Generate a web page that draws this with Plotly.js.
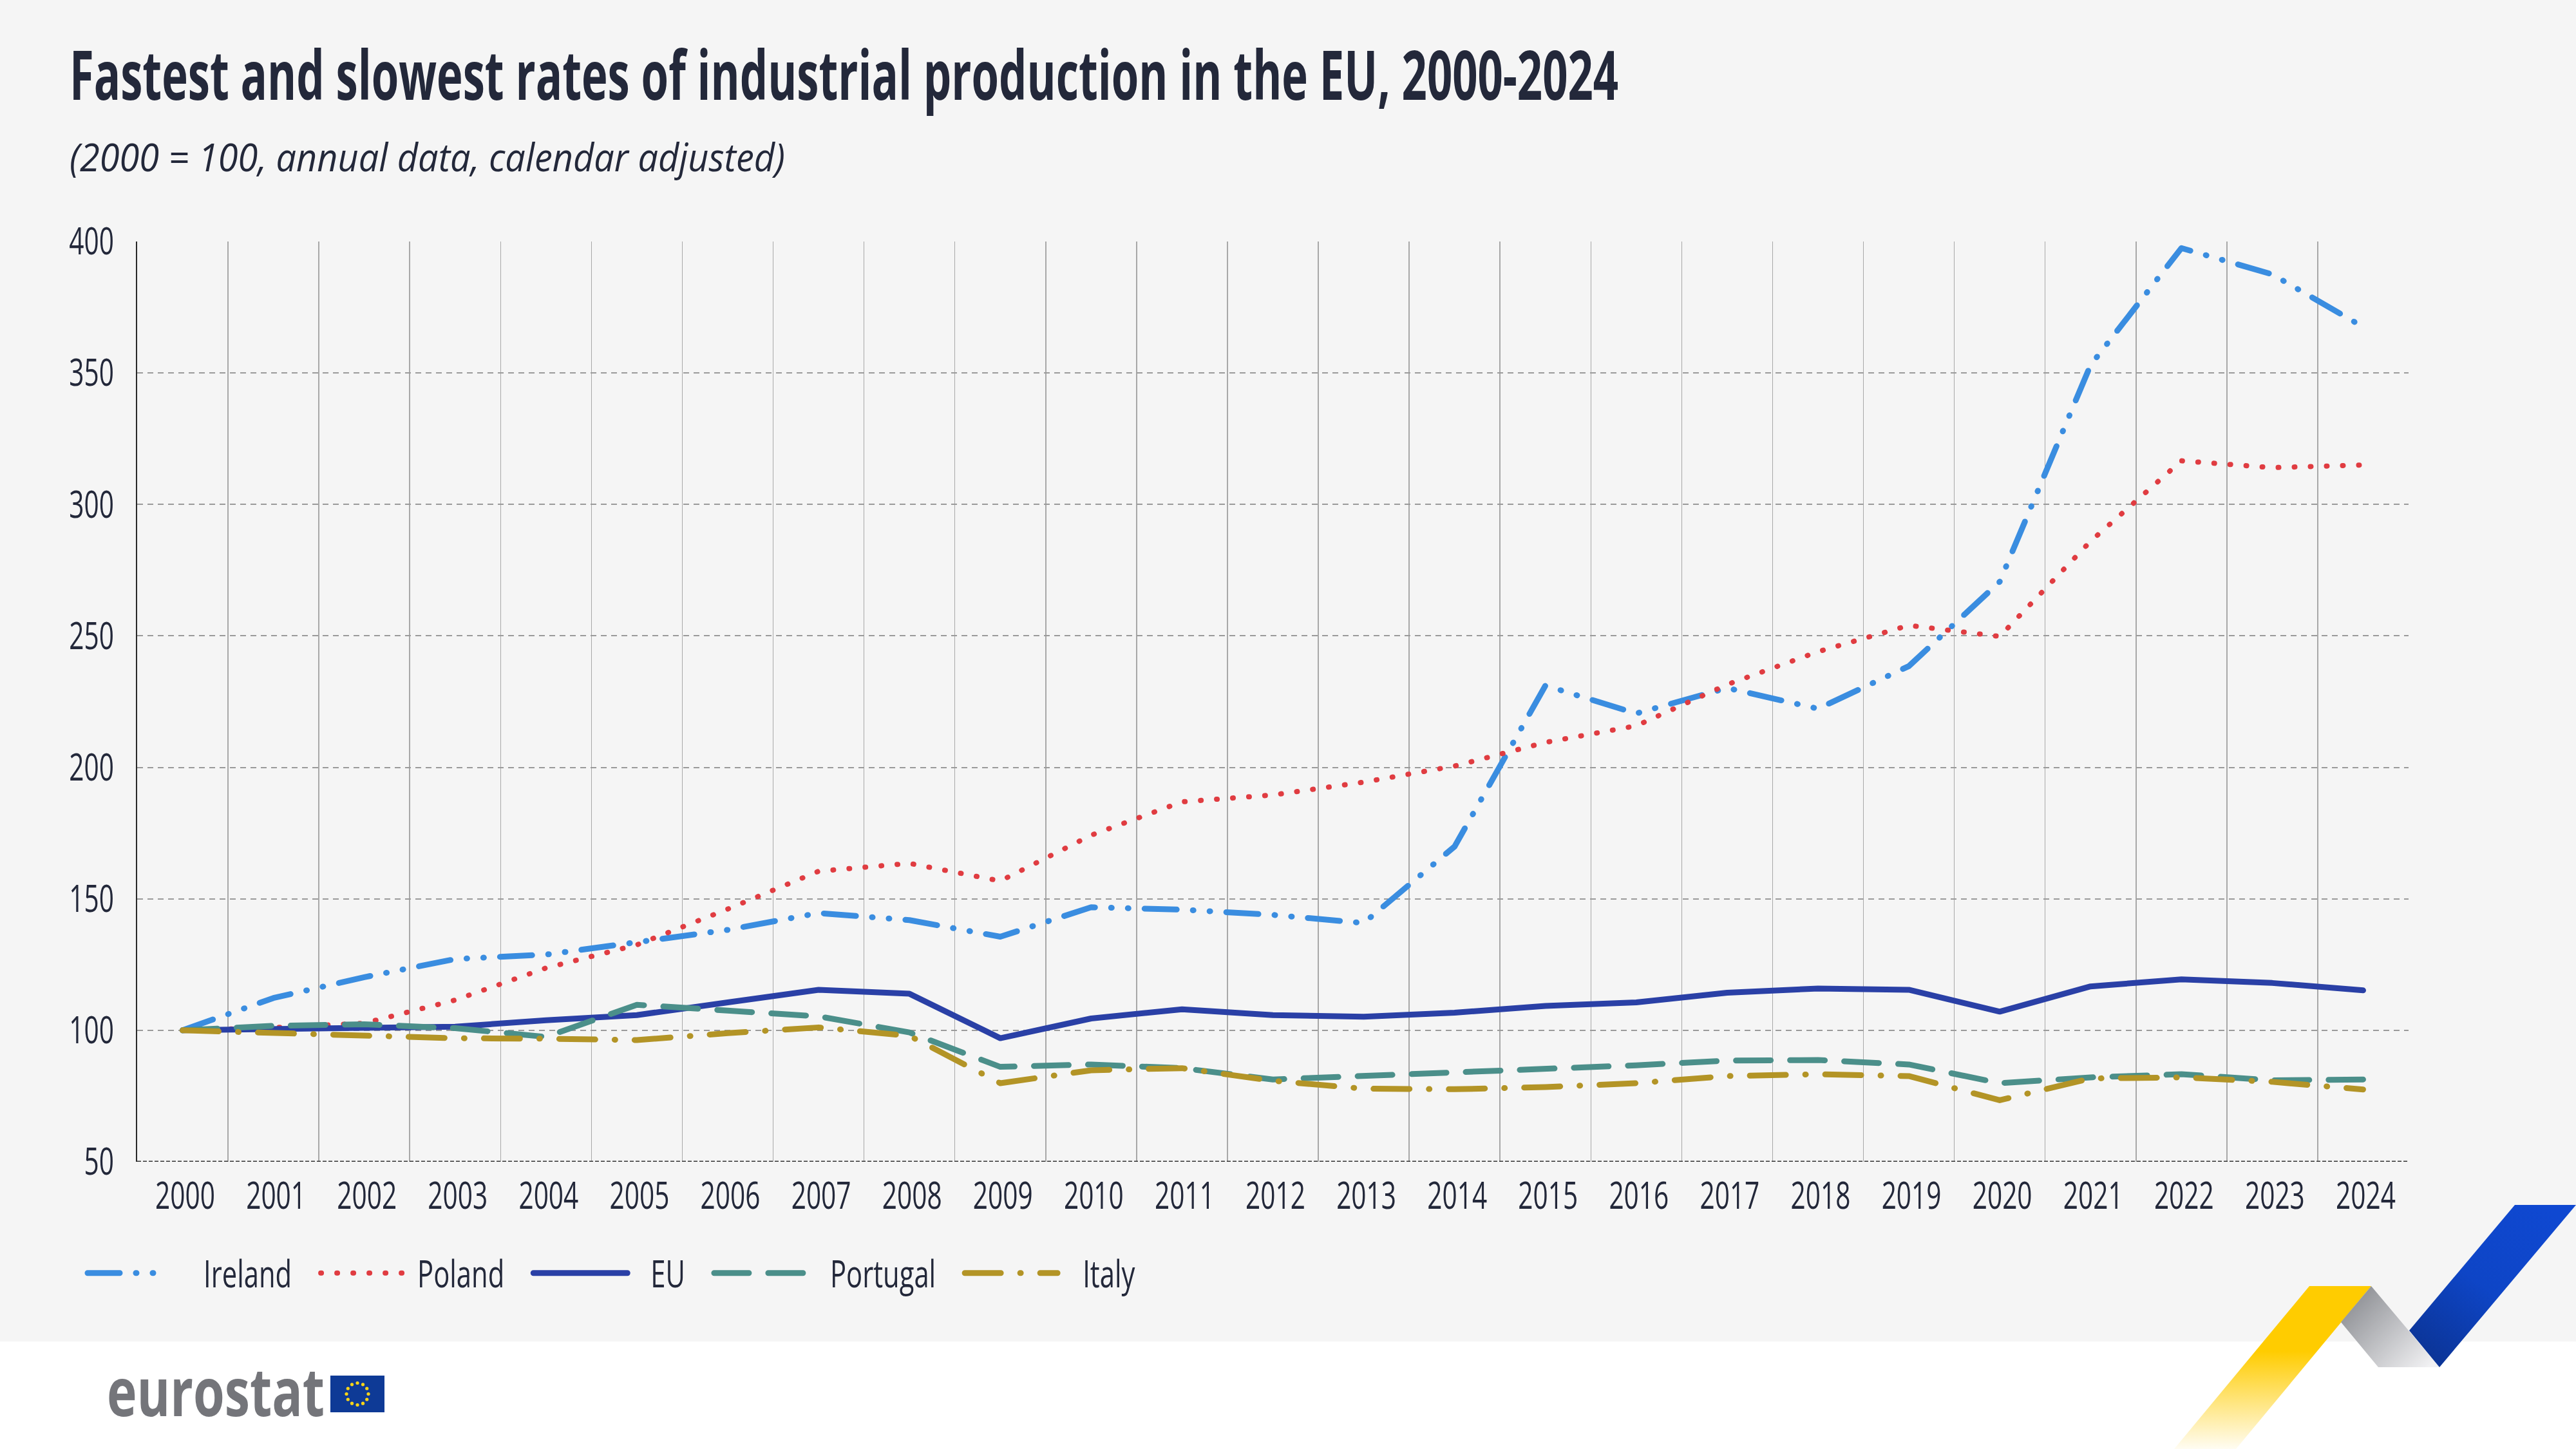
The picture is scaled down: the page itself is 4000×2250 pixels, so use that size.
<!DOCTYPE html>
<html>
<head>
<meta charset="utf-8">
<script src="https://cdn.plot.ly/plotly-3.0.1.min.js"></script>
<style>
html,body{margin:0;padding:0;background:#f5f5f5;}
#chart{width:4000px;height:2250px;}
path.js-line{stroke-linecap:round;stroke-linejoin:round;}
</style>
</head>
<body>
<div id="chart"></div>
<script>
// ---------- data ----------
const years = ["2000","2001","2002","2003","2004","2005","2006","2007","2008","2009","2010","2011","2012",
               "2013","2014","2015","2016","2017","2018","2019","2020","2021","2022","2023","2024"];
const ireland  = [100,112.3,120.2,127.1,128.8,133.5,138.2,144.6,141.9,135.6,146.8,145.9,143.9,140.8,169.9,231.1,220.5,230.2,222.3,238.5,270.6,353.0,397.5,387.5,367.5];
const poland   = [100,101.0,102.7,111.5,123.7,132.5,146.1,160.5,163.5,156.8,174.2,186.9,189.5,194.4,200.5,209.5,215.8,231.5,244.0,254.0,249.8,286.0,316.6,314.0,315.0];
const eu       = [100,100.5,100.8,101.4,103.8,105.8,110.6,115.4,113.9,97.0,104.5,108.0,105.8,105.2,106.7,109.3,110.6,114.3,115.9,115.4,107.1,116.7,119.4,118.0,115.2];
const portugal = [100,101.7,102.3,100.8,97.5,109.7,107.5,105.3,99.2,86.1,87.0,85.6,81.3,82.6,84.1,85.2,86.7,88.5,88.7,87.0,79.9,82.1,83.3,81.0,81.3];
const italy    = [100,98.9,97.6,97.0,96.8,96.3,98.9,101.1,97.9,79.9,84.8,85.6,80.8,77.8,77.6,78.4,79.9,82.6,83.3,82.6,73.4,81.7,82.1,80.4,77.5];
const yTicks   = [50,100,150,200,250,300,350,400];

const titleText    = "Fastest and slowest rates of industrial production in the EU, 2000-2024";
const subtitleText = "(2000 = 100, annual data, calendar adjusted)";

// ---------- geometry helpers ----------
const W = 4000, H = 2250, L = 213, R = 260, T = 375, B = 446;
const PW = W - L - R, PH = H - T - B;
const px = x => (x - L) / PW;
const py = y => (H - B - y) / PH;

const FONT = "Open Sans, Noto Sans, DejaVu Sans, sans-serif";
const TXT = "#23283a";

function series(name, y, color, width, dash) {
  return {type: "scatter", mode: "lines", name: name, x: years, y: y,
          line: {color: color, width: width, dash: dash}};
}

const data = [
  series("Ireland", ireland, "#3a8de0", 9, "50px,25px,1px,25px,1px,25px"),
  series("Poland", poland, "#e03c41", 8, "1px,24px"),
  series("EU", eu, "#2a40a6", 9, "solid"),
  series("Portugal", portugal, "#4b8f8a", 9, "54px,30px"),
  series("Italy", italy, "#b39426", 9, "56px,30px,1px,30px")
];
// legend symbol styling (length of sample line, offset of label from symbol start)
const legSymLen  = [112, 128, 146, 146, 144];
const legTextOff = [180, 150, 182, 180, 183];

// decorative shapes
const shapes = [
  {type: "rect", xref: "paper", yref: "paper", x0: px(0), x1: px(W), y0: py(H), y1: py(2083),
   fillcolor: "#ffffff", line: {width: 0}, layer: "below"},
  {type: "line", xref: "paper", yref: "y", x0: 0, x1: 1, y0: 50, y1: 50,
   line: {color: "#333333", width: 3, dash: "6px,3px"}},
  {type: "rect", xref: "paper", yref: "paper", x0: px(513), x1: px(597), y0: py(2193), y1: py(2136),
   fillcolor: "#0e3a96", line: {width: 0}}
];
for (let k = 0; k < 12; k++) {
  const a = k * Math.PI / 6;
  const cx = 555 + 17 * Math.cos(a), cy = 2164.5 + 17 * Math.sin(a);
  shapes.push({type: "circle", xref: "paper", yref: "paper",
    x0: px(cx - 2.6), x1: px(cx + 2.6), y0: py(cy + 2.6), y1: py(cy - 2.6),
    fillcolor: "#ffd617", line: {width: 0}});
}

const ribbon = "<svg xmlns='http://www.w3.org/2000/svg' width='700' height='470' viewBox='0 0 700 470'>" +
 "<defs>" +
 "<linearGradient id='y' x1='0' y1='217' x2='0' y2='470' gradientUnits='userSpaceOnUse'><stop offset='0' stop-color='#ffcc00'/><stop offset='0.4' stop-color='#ffcc00'/><stop offset='1' stop-color='#ffcc00' stop-opacity='0.05'/></linearGradient>" +
 "<linearGradient id='g' x1='350' y1='225' x2='470' y2='343' gradientUnits='userSpaceOnUse'><stop offset='0' stop-color='#8a8c91'/><stop offset='1' stop-color='#f1f1f3'/></linearGradient>" +
 "<linearGradient id='b' x1='650' y1='91' x2='460' y2='343' gradientUnits='userSpaceOnUse'><stop offset='0' stop-color='#0f48d1'/><stop offset='0.5' stop-color='#0e45c6'/><stop offset='1' stop-color='#0b3290'/></linearGradient>" +
 "</defs>" +
 "<polygon points='286,217 382,217 172,470 76,470' fill='url(#y)'/>" +
 "<polygon points='382,217 488,343 393,343 335,273' fill='url(#g)'/>" +
 "<polygon points='605,91 700,91 488,343 441,286' fill='url(#b)'/>" +
 "</svg>";

const layout = {
  width: W, height: H,
  margin: {l: L, r: R, t: T, b: B, pad: 0},
  paper_bgcolor: "#f5f5f5",
  plot_bgcolor: "#f5f5f5",
  font: {family: FONT, color: TXT, size: 58},
  title: {text: titleText, xref: "container", yref: "container", x: 108 / W, xanchor: "left",
          y: 1 - 118 / H, yanchor: "middle",
          font: {family: FONT, size: 106, weight: 700, color: TXT}},
  xaxis: {type: "category", categoryorder: "array", categoryarray: years,
          range: [-0.5, years.length - 0.5], tickson: "boundaries",
          showgrid: true, gridcolor: "#a8a8a8", gridwidth: 1.5,
          ticks: "", showline: false, zeroline: false, fixedrange: true,
          tickfont: {family: FONT, size: 58, color: TXT}, ticklabelstandoff: 14},
  yaxis: {range: [50, 400], tickvals: yTicks, ticktext: yTicks.map(String),
          showgrid: true, gridcolor: "#9a9a9a", gridwidth: 2, griddash: "9px,7px",
          showline: true, linecolor: "#2a2a2a", linewidth: 2.5, zeroline: false,
          ticks: "", tickfont: {family: FONT, size: 58, color: TXT}, ticklabelstandoff: 36},
  showlegend: true,
  legend: {orientation: "h", x: px(128), xanchor: "left", y: py(1977), yanchor: "middle",
           bgcolor: "rgba(0,0,0,0)", font: {family: FONT, size: 58, color: TXT},
           itemwidth: 140, traceorder: "normal", itemclick: false},
  annotations: [
    {text: subtitleText, xref: "paper", yref: "paper", x: px(106), y: py(243), xanchor: "left", yanchor: "middle",
     showarrow: false, font: {family: FONT, size: 60, style: "italic", color: TXT}},
    {text: "<b>eurostat</b>", xref: "paper", yref: "paper", x: px(160), y: py(2158), xanchor: "left", yanchor: "middle",
     showarrow: false, font: {family: FONT, size: 104, color: "#74757a"}}
  ],
  shapes: shapes,
  images: [{source: "data:image/svg+xml;utf8," + encodeURIComponent(ribbon),
            xref: "paper", yref: "paper", x: px(3300), y: py(1780), sizex: 700 / PW, sizey: 470 / PH,
            xanchor: "left", yanchor: "top", sizing: "stretch", layer: "above"}]
};

// squeeze a text element horizontally (condensed look) and keep/put it at a given edge
function squeeze(t, newW, align, target) {
  const r0 = t.getBoundingClientRect();
  t.setAttribute("textLength", newW);
  t.setAttribute("lengthAdjust", "spacingAndGlyphs");
  const r1 = t.getBoundingClientRect();
  let d;
  if (align === "left") d = (target != null ? target : r0.left) - r1.left;
  else if (align === "right") d = (target != null ? target : r0.right) - r1.right;
  else d = (target != null ? target : (r0.left + r0.right) / 2) - (r1.left + r1.right) / 2;
  const x = parseFloat(t.getAttribute("x") || "0");
  t.setAttribute("x", x + d);
}

const gd = document.getElementById("chart");
Plotly.newPlot(gd, data, layout, {staticPlot: true, displayModeBar: false}).then(function () {
  gd.querySelectorAll(".xtick text").forEach(t => {
    const r = t.getBoundingClientRect();
    squeeze(t, t.getComputedTextLength() * 0.70, "center", (r.left + r.right) / 2 + 4);
  });
  gd.querySelectorAll(".ytick text").forEach(t => squeeze(t, t.getComputedTextLength() * 0.70, "right", 177));
  const tt = gd.querySelector(".gtitle");
  if (tt) squeeze(tt, 2405, "left", 108);
  gd.querySelectorAll(".annotation-text").forEach(t => {
    if (t.textContent.indexOf("2000 = 100") >= 0) squeeze(t, 1111, "left", 108);
    else if (t.textContent.indexOf("eurostat") >= 0) squeeze(t, 338, "left", 166);
  });
  // legend: no clipping, long sample lines, condensed labels, spacing like the original
  gd.querySelectorAll(".legend [clip-path]").forEach(e => e.removeAttribute("clip-path"));
  const lg = gd.querySelector(".legend");
  if (lg && lg.hasAttribute("clip-path")) lg.removeAttribute("clip-path");
  let symStart = 136;
  gd.querySelectorAll(".legend .traces").forEach((g, i) => {
    const p = g.querySelector("path.js-line");
    if (p) p.setAttribute("d", "M0,0h" + legSymLen[i]);
    const m = /translate\(\s*([-\d.e]+)[ ,]+([-\d.e]+)\s*\)/.exec(g.getAttribute("transform") || "");
    if (p && m) {
      const pr = p.getBoundingClientRect();
      g.setAttribute("transform", "translate(" + (parseFloat(m[1]) + symStart - pr.left) + "," + m[2] + ")");
    }
    const t = g.querySelector(".legendtext");
    const textLeft = symStart + legTextOff[i];
    squeeze(t, t.getComputedTextLength() * 0.72, "left", textLeft);
    const tr = t.getBoundingClientRect();
    symStart = tr.right + 45;
  });
});
</script>
</body>
</html>
